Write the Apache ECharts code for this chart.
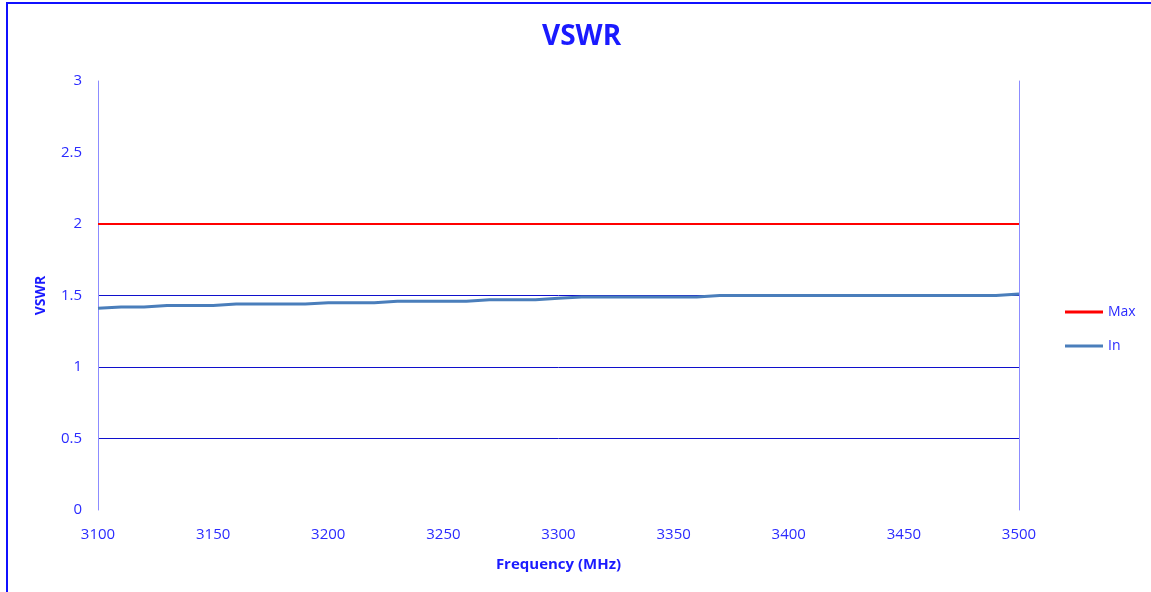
<!DOCTYPE html>
<html><head><meta charset="utf-8">
<script src="https://cdn.jsdelivr.net/npm/echarts@6/dist/echarts.min.js"></script>
<style>html,body{margin:0;padding:0;background:#fff}#c{width:1151px;height:592px}</style>
</head><body><div id="c"></div>
<script>
const freqs = [3100,3110,3120,3130,3140,3150,3160,3170,3180,3190,3200,3210,3220,3230,3240,3250,3260,3270,3280,3290,3300,3310,3320,3330,3340,3350,3360,3370,3380,3390,3400,3410,3420,3430,3440,3450,3460,3470,3480,3490,3500];
const vswrIn = [1.41,1.42,1.42,1.43,1.43,1.43,1.44,1.44,1.44,1.44,1.45,1.45,1.45,1.46,1.46,1.46,1.46,1.47,1.47,1.47,1.48,1.49,1.49,1.49,1.49,1.49,1.49,1.50,1.50,1.50,1.50,1.50,1.50,1.50,1.50,1.50,1.50,1.50,1.50,1.50,1.51];
const maxFreqs = [3100,3500];
const maxVals = [2,2];
const yTicks = [0,0.5,1,1.5,2,2.5,3];

const blue = '#2b2bff';
const chart = echarts.init(document.getElementById('c'));
chart.setOption({
  animation:false,
  backgroundColor:'#fff',
  textStyle:{fontFamily:'Open Sans'},
  graphic:[{type:'rect',shape:{x:7,y:3,width:1200,height:700},style:{fill:'none',stroke:'#1010ff',lineWidth:2}}],
  title:{text:'VSWR',left:537,top:18,textStyle:{color:'#1a1aff',fontSize:28,fontWeight:'bold',fontFamily:'Open Sans'}},
  legend:{orient:'vertical',left:1060,top:300,itemWidth:38,itemHeight:3,itemGap:20,icon:'rect',
    textStyle:{color:blue,fontSize:14},data:['Max','In']},
  grid:{left:98,right:132,top:81,bottom:82},
  xAxis:{type:'value',min:3100,max:3500,interval:50,name:'Frequency (MHz)',nameLocation:'middle',nameGap:47,
    nameTextStyle:{color:'#1a1aff',fontSize:15,fontWeight:'bold'},
    axisLine:{show:false},axisTick:{show:false},splitLine:{show:false},
    axisLabel:{color:blue,fontSize:15,margin:17,formatter:v=>String(v)}},
  yAxis:[{type:'value',min:0,max:3,interval:0.5,name:'VSWR',nameLocation:'middle',nameGap:50,
    nameTextStyle:{color:'#1a1aff',fontSize:14,fontWeight:'bold'},
    axisLine:{show:true,lineStyle:{color:'#8c8cff',width:1}},axisTick:{show:false},
    axisLabel:{color:blue,fontSize:15,margin:16},
    splitLine:{show:true,lineStyle:{color:['transparent','#1010cc','#1010cc','#1010cc','#1010cc','transparent','transparent'],width:1}}},
   {type:'value',min:0,max:3,interval:0.5,position:'right',axisLine:{show:true,lineStyle:{color:'#8c8cff'}},
    axisTick:{show:false},axisLabel:{show:false},splitLine:{show:false}}],
  series:[
    {name:'Max',type:'line',data:maxFreqs.map((f,i)=>[f,maxVals[i]]),showSymbol:false,symbol:'none',
      lineStyle:{color:'#ff0000',width:2},itemStyle:{color:'#ff0000'},z:3},
    {name:'In',type:'line',data:freqs.map((f,i)=>[f,vswrIn[i]]),showSymbol:false,symbol:'none',
      lineStyle:{color:'#4a7ebb',width:3},itemStyle:{color:'#4a7ebb'},z:4}
  ]
});
</script></body></html>
